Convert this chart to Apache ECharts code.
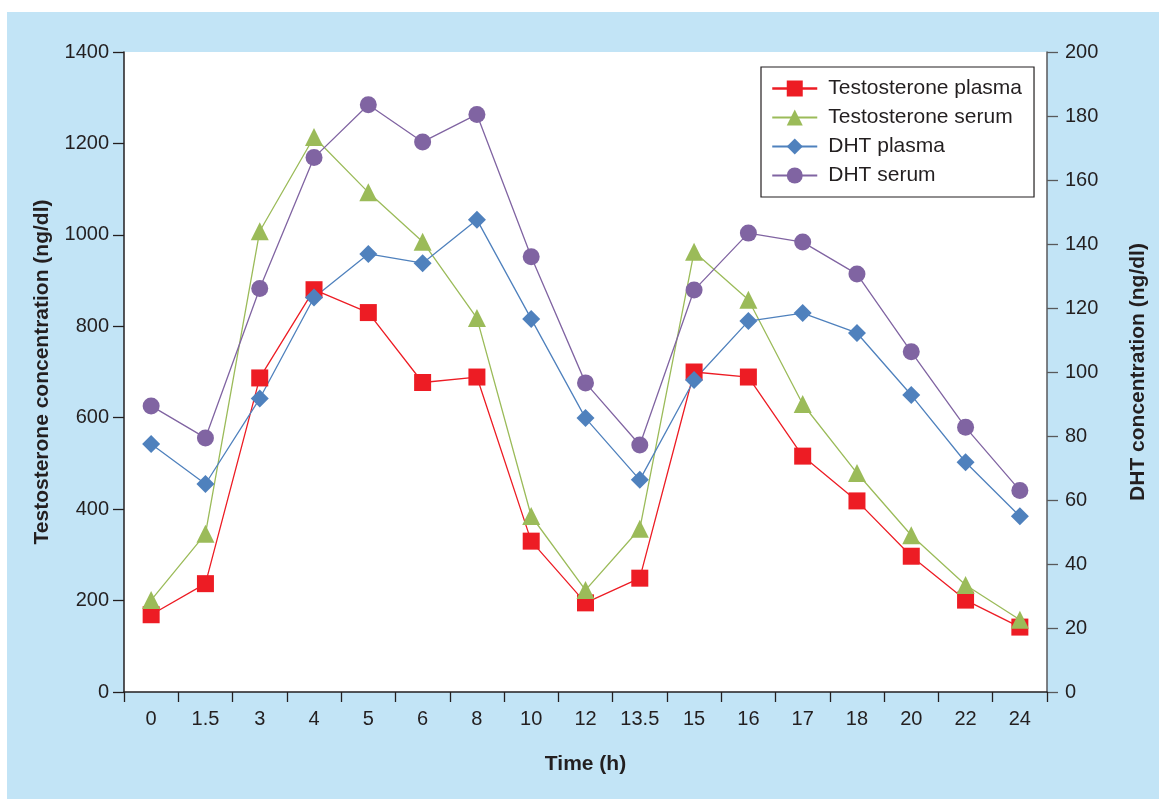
<!DOCTYPE html>
<html><head><meta charset="utf-8">
<script src="https://cdn.jsdelivr.net/npm/echarts@6/dist/echarts.min.js"></script>
<style>html,body{margin:0;padding:0;background:#fff;}#c{width:1159px;height:799px;}</style>
</head><body><div id="c"></div>
<script>
const categories = ['0','1.5','3','4','5','6','8','10','12','13.5','15','16','17','18','20','22','24'];
const testoPlasma = [169, 237, 687, 880, 830, 677, 689, 330, 195, 249, 700, 689, 516, 418, 297, 201, 142];
const testoSerum = [201, 346, 1008, 1214, 1093, 985, 818, 385, 223, 357, 963, 858, 630, 479, 343, 234, 158];
const dhtPlasma = [77.5, 65, 91.7, 123.3, 136.9, 134, 147.6, 116.6, 85.6, 66.3, 97.5, 115.9, 118.4, 112.2, 92.8, 71.8, 54.9];
const dhtSerum = [89.4, 79.4, 126.1, 167, 183.5, 171.9, 180.5, 136, 96.6, 77.2, 125.6, 143.4, 140.6, 130.6, 106.3, 82.7, 63];
const leftTicks = {min: 0, max: 1400, interval: 200};
const rightTicks = {min: 0, max: 200, interval: 20};

const FONT = '"Liberation Sans", Arial, Helvetica, sans-serif';
const txt = '#231f20';
const chart = echarts.init(document.getElementById('c'), null, {renderer: 'canvas'});
function mk(name, data, yIdx, color, symbol, size) {
  return {
    name, type: 'line', data, yAxisIndex: yIdx, symbol, symbolSize: size,
    lineStyle: {color, width: 1.3}, itemStyle: {color},
    emphasis: {disabled: true}, animation: false, z: 3
  };
}
chart.setOption({
  animation: false,
  backgroundColor: 'transparent',
  graphic: [{type: 'rect', shape: {x: 7, y: 12, width: 1152, height: 787}, style: {fill: '#c2e4f6'}, z: -100, silent: true}],
  grid: {left: 124, right: 112, top: 52, bottom: 107, show: true, backgroundColor: '#ffffff', borderWidth: 0,
         containLabel: false, outerBoundsMode: 'none'},
  legend: {
    orient: 'vertical', left: 761, top: 67,
    padding: [11, 12, 11, 10], itemWidth: 45, itemHeight: 20, itemGap: 8,
    borderColor: '#231f20', borderWidth: 1.2, backgroundColor: '#fff',
    textStyle: {fontFamily: FONT, fontSize: 21, color: txt, padding: [0, 0, 0, 6]},
    data: [
      {name: 'Testosterone plasma', lineStyle: {width: 2.5}},
      {name: 'Testosterone serum'},
      {name: 'DHT plasma'},
      {name: 'DHT serum'}
    ]
  },
  xAxis: {
    type: 'category', data: categories, boundaryGap: true,
    name: 'Time (h)', nameLocation: 'middle', nameGap: 62,
    nameTextStyle: {fontFamily: FONT, fontSize: 21, fontWeight: 'bold', color: txt},
    axisLine: {lineStyle: {color: txt, width: 1.5}},
    axisTick: {show: true, length: 10, lineStyle: {color: txt, width: 1.3}},
    axisLabel: {fontFamily: FONT, fontSize: 20, color: txt, margin: 17, interval: 0},
    splitLine: {show: false}
  },
  yAxis: [{
    type: 'value', position: 'left', min: leftTicks.min, max: leftTicks.max, interval: leftTicks.interval,
    name: 'Testosterone concentration (ng/dl)', nameLocation: 'middle', nameGap: 71, nameRotate: 90,
    nameTextStyle: {fontFamily: FONT, fontSize: 21, fontWeight: 'bold', color: txt},
    axisLine: {show: true, lineStyle: {color: txt, width: 1.5}},
    axisTick: {show: true, length: 11, lineStyle: {color: txt, width: 1.3}},
    axisLabel: {fontFamily: FONT, fontSize: 20, color: txt, margin: 15, formatter: v => String(v)},
    splitLine: {show: false}
  }, {
    type: 'value', position: 'right', min: rightTicks.min, max: rightTicks.max, interval: rightTicks.interval,
    name: 'DHT concentration (ng/dl)', nameLocation: 'middle', nameGap: 81, nameRotate: 90,
    nameTextStyle: {fontFamily: FONT, fontSize: 21, fontWeight: 'bold', color: txt},
    axisLine: {show: true, lineStyle: {color: '#58595b', width: 1.5}},
    axisTick: {show: true, length: 11, lineStyle: {color: '#58595b', width: 1.3}},
    axisLabel: {fontFamily: FONT, fontSize: 20, color: txt, margin: 18, formatter: v => String(v)},
    splitLine: {show: false}
  }],
  series: [
    mk('Testosterone plasma', testoPlasma, 0, '#ed1c24', 'rect', 17),
    mk('Testosterone serum', testoSerum, 0, '#9bbb59', 'triangle', 18),
    mk('DHT plasma', dhtPlasma, 1, '#4f81bd', 'diamond', 18),
    mk('DHT serum', dhtSerum, 1, '#8064a2', 'circle', 17)
  ]
});
</script></body></html>
